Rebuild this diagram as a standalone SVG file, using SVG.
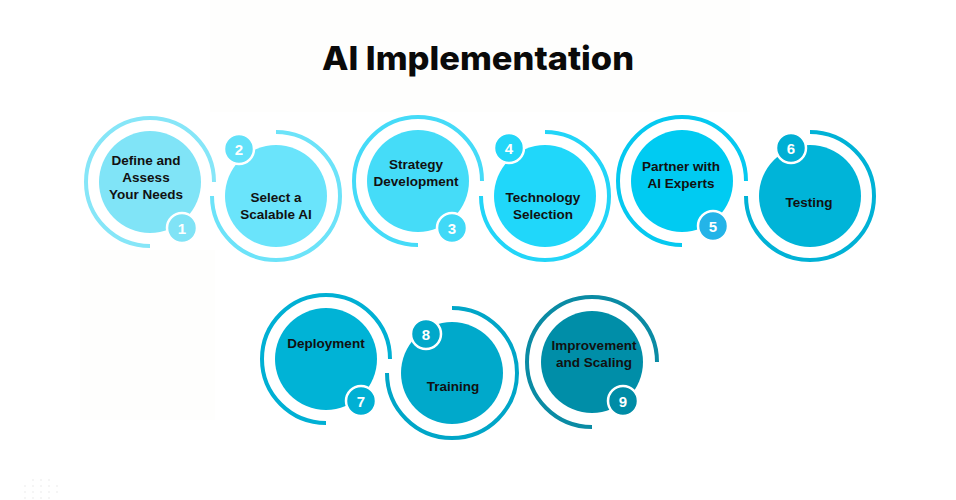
<svg xmlns="http://www.w3.org/2000/svg" width="956" height="500" viewBox="0 0 956 500">
<style>
.bg{fill:#fefefd}
.title{font-family:Inter,"Liberation Sans",sans-serif;font-weight:800;font-size:33px;fill:#0a0a0a;text-anchor:middle}
.lbl{font-family:"Liberation Sans",Arial,sans-serif;font-weight:700;font-size:13.5px;fill:#111;text-anchor:middle}
.num{font-family:"Liberation Sans",Arial,sans-serif;font-weight:700;font-size:15px;fill:#fff;text-anchor:middle}
.ring{fill:none;stroke-width:4}
.badge{stroke:#fff;stroke-width:2.5}
.dot{fill:#e8e8e8}
</style>
<rect width="956" height="500" fill="#ffffff"/>
<rect class="bg" x="210" y="0" width="540" height="112"/>
<rect class="bg" x="80" y="250" width="135" height="170"/>
<text class="title" x="478" y="70" textLength="312" lengthAdjust="spacingAndGlyphs">AI Implementation</text>

<g id="node1">
<path class="ring" stroke="#86e6f8" d="M150,246 A64,64 0 1 1 214,182"/>
<circle cx="150" cy="182" r="51" fill="#80e4f7"/>
<text class="lbl" x="146" y="165">Define and</text>
<text class="lbl" x="146" y="182">Assess</text>
<text class="lbl" x="146" y="199">Your Needs</text>
<circle class="badge" cx="182" cy="228" r="15" fill="#80e3f6"/>
<text class="num" x="182" y="233.5">1</text>
</g>

<g id="node2">
<path class="ring" stroke="#6ce3f9" d="M276,132 A64,64 0 1 1 212,196"/>
<circle cx="276" cy="196" r="51" fill="#6ae4fb"/>
<text class="lbl" x="276" y="202">Select a</text>
<text class="lbl" x="276" y="219">Scalable AI</text>
<circle class="badge" cx="239" cy="149" r="15" fill="#62e1f9"/>
<text class="num" x="239" y="154.5">2</text>
</g>

<g id="node3">
<path class="ring" stroke="#45dbf8" d="M418,245 A64,64 0 1 1 482,181"/>
<circle cx="418" cy="181" r="51" fill="#45dcf8"/>
<text class="lbl" x="416" y="169">Strategy</text>
<text class="lbl" x="416" y="186">Development</text>
<circle class="badge" cx="452" cy="228" r="15" fill="#40d9f7"/>
<text class="num" x="452" y="233.5">3</text>
</g>

<g id="node4">
<path class="ring" stroke="#22d5f8" d="M545,132 A64,64 0 1 1 481,196"/>
<circle cx="545" cy="196" r="51" fill="#20d7fa"/>
<text class="lbl" x="543" y="202">Technology</text>
<text class="lbl" x="543" y="219">Selection</text>
<circle class="badge" cx="509" cy="148" r="15" fill="#22d6f8"/>
<text class="num" x="509" y="153.5">4</text>
</g>

<g id="node5">
<path class="ring" stroke="#05c9f0" d="M682,245 A64,64 0 1 1 746,181"/>
<circle cx="682" cy="181" r="51" fill="#00cbf2"/>
<text class="lbl" x="681" y="171">Partner with</text>
<text class="lbl" x="681" y="188">AI Experts</text>
<circle class="badge" cx="713" cy="226" r="15" fill="#24b4e8"/>
<text class="num" x="713" y="231.5">5</text>
</g>

<g id="node6">
<path class="ring" stroke="#00b2d6" d="M810,132 A64,64 0 1 1 746,196"/>
<circle cx="810" cy="196" r="51" fill="#00b4d8"/>
<text class="lbl" x="809" y="207">Testing</text>
<circle class="badge" cx="791" cy="148" r="15" fill="#00afd4"/>
<text class="num" x="791" y="153.5">6</text>
</g>

<g id="node7">
<path class="ring" stroke="#00b0d4" d="M326,423 A64,64 0 1 1 390,359"/>
<circle cx="326" cy="359" r="51" fill="#00b3d6"/>
<text class="lbl" x="326" y="348">Deployment</text>
<circle class="badge" cx="361" cy="401" r="15" fill="#00b0d4"/>
<text class="num" x="361" y="406.5">7</text>
</g>

<g id="node8">
<path class="ring" stroke="#00a6c8" d="M452,308 A65,65 0 1 1 387,373"/>
<circle cx="452" cy="373" r="51" fill="#00a9cb"/>
<text class="lbl" x="453" y="391">Training</text>
<circle class="badge" cx="426" cy="334" r="15" fill="#00a8ca"/>
<text class="num" x="426" y="339.5">8</text>
</g>

<g id="node9">
<path class="ring" stroke="#0a8ba4" d="M592,427 A65,65 0 1 1 657,362"/>
<circle cx="592" cy="362" r="51" fill="#008ea8"/>
<text class="lbl" x="594" y="350">Improvement</text>
<text class="lbl" x="594" y="367">and Scaling</text>
<circle class="badge" cx="623" cy="401" r="15" fill="#008ca6"/>
<text class="num" x="623" y="406.5">9</text>
</g>

<g id="connectors"></g>

<g id="dots">
<circle class="dot" cx="33" cy="480" r="0.8"/><circle class="dot" cx="41" cy="480" r="0.8"/><circle class="dot" cx="49" cy="480" r="0.8"/>
<circle class="dot" cx="25" cy="486" r="0.8"/><circle class="dot" cx="33" cy="486" r="0.8"/><circle class="dot" cx="41" cy="486" r="0.8"/><circle class="dot" cx="49" cy="486" r="0.8"/><circle class="dot" cx="57" cy="486" r="0.8"/>
<circle class="dot" cx="25" cy="492" r="0.8"/><circle class="dot" cx="33" cy="492" r="0.8"/><circle class="dot" cx="41" cy="492" r="0.8"/><circle class="dot" cx="49" cy="492" r="0.8"/><circle class="dot" cx="57" cy="492" r="0.8"/>
<circle class="dot" cx="25" cy="498" r="0.8"/><circle class="dot" cx="33" cy="498" r="0.8"/><circle class="dot" cx="41" cy="498" r="0.8"/><circle class="dot" cx="49" cy="498" r="0.8"/>
</g>
</svg>
